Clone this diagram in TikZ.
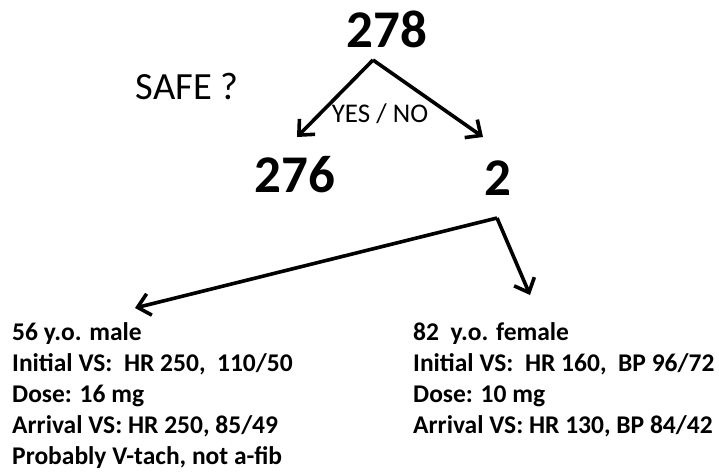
\documentclass[tikz,border=0pt]{standalone}
\usepackage{fontspec}
\setmainfont{Carlito}
\usetikzlibrary{arrows.meta}
\usetikzlibrary{positioning}

\begin{document}
\begin{tikzpicture}[x=1pt, y=-1pt, >={Straight Barb[length=12pt, width=22pt, line join=miter]},
    branch/.style={->, line width=3.6pt, line join=miter},
    count/.style={font=\bfseries\fontsize{53}{60}\selectfont, inner sep=0pt, anchor=base},
    case/.style={font=\bfseries\fontsize{25.5}{31}\selectfont, align=left, inner sep=0pt, anchor=base west}]
    \useasboundingbox (0,0) rectangle (719,473);

    % Draw the counts
    \node[count] (total) at (387,48) {278};
    \node[count] (safe) at (295,192) {276};
    \node[count] (unsafe) at (498,195) {2};
    \node[font=\fontsize{38.5}{44}\selectfont, inner sep=0pt, anchor=base] (question) at (187,100) {SAFE ?};

    % Draw the first split
    \coordinate (top) at (373,60);
    \coordinate (safetip) at (297,137);
    \coordinate (unsafetip) at (483,137);
    \draw[branch] (top) -- (safetip);
    \draw[branch] (top) -- (unsafetip);
    \node[font=\fontsize{27}{32}\selectfont, inner sep=0pt, anchor=base] (answer) at (380,123) {YES / NO};

    % Draw the second split
    \coordinate (knee) at (497,218);
    \coordinate (maletip) at (135,308);
    \coordinate (femaletip) at (530,295);
    \draw[branch] (knee) -- (maletip);
    \draw[branch] (knee) -- (femaletip);

    % Draw the two cases (anchored at the last line)
    \node[case] (male) at (12,464) {56 y.o. male\\
        Initial VS:~ HR 250,~ 110/50\\
        Dose: 16 mg\\
        Arrival VS: HR 250, 85/49\\
        Probably V-tach, not a-fib};
    \node[case] (female) at (413,433) {82~ y.o. female\\
        Initial VS:~ HR 160,~ BP 96/72\\
        Dose: 10 mg\\
        Arrival VS: HR 130, BP 84/42};
\end{tikzpicture}
\end{document}
